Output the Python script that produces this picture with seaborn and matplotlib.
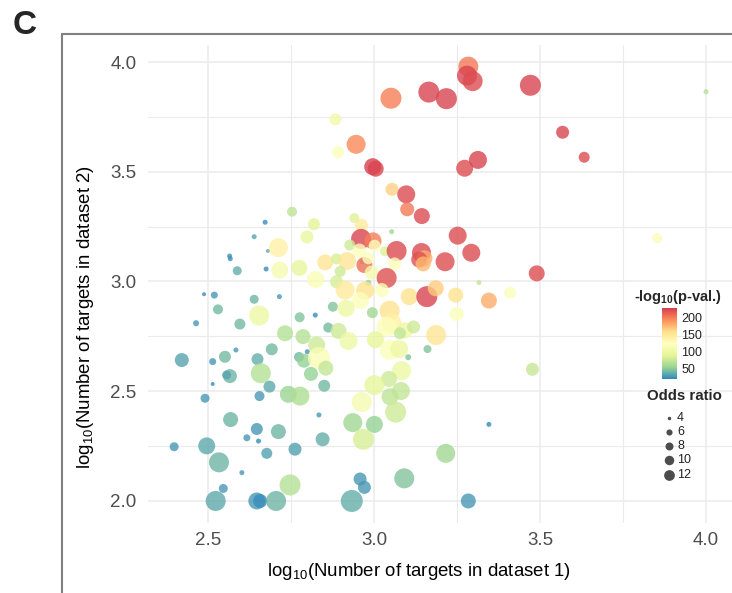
import numpy as np
import pandas as pd
import matplotlib
matplotlib.use("Agg")
import matplotlib.pyplot as plt
import seaborn as sns
from matplotlib.colors import LinearSegmentedColormap, Normalize
from matplotlib.ticker import MultipleLocator
from matplotlib.lines import Line2D
import matplotlib.cm as cm

# ---------------- data ----------------
log_targets_1 = [
    3.284, 3.280, 3.297, 3.471, 3.165, 3.218, 3.051, 3.568, 3.633, 4.000,
    2.946, 2.996, 3.005, 3.273, 3.313, 3.054, 3.097, 3.100, 3.144, 3.053,
    3.252, 3.293, 3.853, 3.490, 2.884, 2.892, 2.753, 2.672, 2.639, 2.819,
    2.798, 2.712, 2.680, 2.565, 2.567, 2.588, 2.675, 2.716, 2.775, 2.941,
    2.962, 2.961, 2.997, 2.927, 2.956, 3.002, 3.033, 3.068, 3.062, 3.143,
    3.152, 3.136, 3.148, 3.214, 2.853, 2.887, 2.919, 2.964, 2.971, 2.983,
    2.824, 2.887, 2.898, 2.913, 2.983, 2.993, 2.973, 3.038, 3.023, 2.959,
    3.106, 3.159, 3.186, 3.246, 3.316, 3.346, 3.249, 3.410, 2.776, 2.823,
    2.876, 2.916, 2.995, 3.047, 3.053, 3.038, 3.093, 3.119, 3.187, 2.862,
    2.893, 2.923, 2.786, 3.004, 3.048, 3.076, 3.161, 3.103, 3.078, 3.083,
    3.045, 3.001, 3.081, 3.048, 2.963, 3.477, 3.346, 3.216, 3.091, 2.958,
    2.971, 2.933, 3.284, 2.936, 3.001, 2.968, 3.065, 2.654, 2.596, 2.530,
    2.639, 2.732, 2.827, 2.551, 2.584, 2.649, 2.692, 2.774, 2.799, 2.789,
    2.834, 2.855, 2.810, 2.566, 2.556, 2.659, 2.685, 2.655, 2.742, 2.777,
    2.850, 2.834, 2.568, 2.647, 2.617, 2.652, 2.712, 2.845, 2.677, 2.762,
    2.602, 2.546, 2.747, 2.488, 2.519, 2.715, 2.464, 2.421, 2.514, 2.514,
    2.491, 2.398, 2.496, 2.533, 2.523, 2.647, 2.657, 2.705,
]
log_targets_2 = [
    3.979, 3.938, 3.913, 3.894, 3.863, 3.833, 3.835, 3.680, 3.566, 3.865,
    3.625, 3.523, 3.514, 3.516, 3.554, 3.420, 3.397, 3.329, 3.298, 3.227,
    3.209, 3.131, 3.198, 3.037, 3.739, 3.589, 3.318, 3.270, 3.204, 3.261,
    3.203, 3.154, 3.139, 3.116, 3.104, 3.049, 3.057, 3.052, 3.062, 3.289,
    3.256, 3.194, 3.185, 3.166, 3.141, 3.163, 3.138, 3.139, 3.080, 3.132,
    3.106, 3.100, 3.080, 3.090, 3.087, 3.103, 3.093, 3.090, 3.075, 3.106,
    3.009, 2.999, 3.046, 2.961, 2.994, 3.041, 2.959, 3.016, 2.961, 2.913,
    2.931, 2.931, 2.969, 2.938, 2.995, 2.913, 2.852, 2.949, 2.837, 2.847,
    2.885, 2.878, 2.858, 2.867, 2.810, 2.794, 2.777, 2.793, 2.756, 2.790,
    2.775, 2.729, 2.749, 2.735, 2.688, 2.692, 2.692, 2.655, 2.764, 2.594,
    2.556, 2.528, 2.501, 2.475, 2.451, 2.600, 2.349, 2.217, 2.103, 2.100,
    2.062, 2.000, 2.000, 2.357, 2.349, 2.281, 2.405, 2.845, 2.806, 2.873,
    2.919, 2.764, 2.711, 2.657, 2.688, 2.646, 2.691, 2.656, 2.680, 2.639,
    2.651, 2.605, 2.579, 2.569, 2.574, 2.582, 2.521, 2.478, 2.486, 2.478,
    2.525, 2.392, 2.371, 2.328, 2.288, 2.273, 2.316, 2.281, 2.217, 2.236,
    2.129, 2.057, 2.073, 2.942, 2.938, 2.931, 2.810, 2.642, 2.635, 2.533,
    2.468, 2.247, 2.251, 2.176, 2.000, 2.000, 2.000, 2.000,
]
odds_ratio = [
    10.8, 10.8, 10.8, 11.6, 11.6, 11.6, 11.6, 6.33, 5.40, 3.54,
    10.05, 8.65, 8.01, 8.65, 9.33, 6.33, 9.33, 6.85, 8.01, 3.54,
    9.33, 9.33, 4.99, 8.01, 5.84, 5.84, 4.99, 3.54, 3.54, 5.84,
    6.33, 10.05, 3.36, 3.54, 3.54, 4.62, 3.54, 8.65, 8.01, 4.99,
    6.33, 10.8, 8.65, 5.40, 6.85, 5.84, 4.99, 10.8, 6.33, 10.05,
    8.01, 8.01, 7.41, 10.05, 8.01, 5.40, 9.33, 3.54, 8.01, 5.84,
    8.65, 6.33, 5.40, 10.05, 3.75, 6.85, 9.33, 10.8, 6.85, 8.65,
    8.65, 11.6, 8.01, 7.41, 3.54, 8.01, 6.85, 5.84, 4.99, 3.54,
    4.99, 8.65, 5.40, 10.8, 10.8, 10.8, 8.01, 6.33, 10.8, 4.99,
    8.01, 9.33, 7.41, 8.65, 10.8, 9.33, 4.29, 3.75, 5.84, 10.05,
    8.01, 10.8, 9.33, 8.65, 10.8, 6.33, 3.54, 10.05, 10.8, 6.33,
    6.33, 12.43, 7.41, 10.05, 8.65, 11.6, 11.6, 10.8, 5.40, 4.99,
    4.62, 8.01, 8.65, 5.84, 3.54, 5.84, 5.84, 4.99, 3.54, 6.85,
    12.43, 7.41, 6.85, 6.85, 4.62, 10.8, 5.84, 4.99, 8.65, 10.05,
    5.84, 3.54, 7.41, 5.84, 4.00, 3.54, 7.41, 6.85, 5.40, 6.33,
    3.54, 4.62, 11.6, 3.36, 4.00, 3.54, 3.75, 6.85, 4.00, 3.36,
    4.62, 4.62, 8.65, 10.8, 10.8, 8.65, 6.85, 10.8,
]
neg_log10_p = [
    202, 225, 222, 225, 225, 225, 200, 225, 222, 66,
    195, 228, 225, 222, 225, 165, 223, 202, 223, 57,
    223, 223, 128, 222, 103, 120, 70, 20, 31, 88,
    95, 140, 36, 22, 22, 36, 20, 110, 92, 85,
    147, 225, 200, 77, 120, 120, 85, 223, 120, 223,
    180, 220, 175, 222, 150, 82, 150, 52, 207, 120,
    116, 82, 77, 147, 52, 110, 155, 220, 120, 120,
    155, 225, 167, 155, 72, 180, 120, 120, 46, 20,
    46, 100, 57, 155, 140, 120, 100, 77, 150, 41,
    77, 100, 66, 92, 120, 100, 46, 46, 72, 100,
    77, 92, 72, 70, 110, 74, 20, 57, 46, 26,
    26, 36, 26, 57, 52, 82, 77, 100, 41, 41,
    39, 66, 77, 41, 26, 36, 41, 41, 26, 52,
    116, 72, 52, 39, 31, 66, 33, 26, 54, 63,
    41, 26, 39, 26, 26, 20, 39, 36, 29, 29,
    26, 26, 66, 20, 26, 26, 26, 31, 26, 20,
    26, 26, 33, 39, 33, 26, 20, 39,
]
x_ticks = [2.5, 3.0, 3.5, 4.0]
y_ticks = [2.0, 2.5, 3.0, 3.5, 4.0]
p_breaks = [50, 100, 150, 200]
or_breaks = [4, 6, 8, 10, 12]
spectral = ["#3288BD", "#99D594", "#E6F598", "#FFFFBF", "#FEE08B", "#FC8D59", "#D53E4F"]

# ---------------- style ----------------
sns.set_style("white")
plt.rcParams["font.family"] = ["Liberation Sans", "DejaVu Sans"]
plt.rcParams["mathtext.fontset"] = "custom"
plt.rcParams["mathtext.rm"] = "Liberation Sans"
plt.rcParams["mathtext.it"] = "Liberation Sans:italic"
plt.rcParams["mathtext.bf"] = "Liberation Sans:bold"

W, H = 732, 593
fig = plt.figure(figsize=(W / 100, H / 100), dpi=100)
ax = fig.add_axes([147.6 / W, 1 - 522.7 / H, 585 / W, 477.8 / H])

df = pd.DataFrame({"x": log_targets_1, "y": log_targets_2,
                   "odds": odds_ratio, "p": neg_log10_p})
cmap = LinearSegmentedColormap.from_list("spectral_gg", spectral)
p_norm = (18, 229)
size_range = (8.3, 250.9)
size_norm = (3.36, 12.43)

sns.scatterplot(data=df, x="x", y="y", hue="p", size="odds",
                palette=cmap, hue_norm=p_norm, sizes=size_range,
                size_norm=size_norm, alpha=0.8, linewidth=0,
                legend=False, ax=ax, zorder=3)

ax.set_xlim(2.318, 4.080)
ax.set_ylim(1.901, 4.078)
ax.set_xticks(x_ticks)
ax.set_yticks(y_ticks)
ax.set_xticklabels([f"{t:.1f}" for t in x_ticks])
ax.set_yticklabels([f"{t:.1f}" for t in y_ticks])
ax.xaxis.set_minor_locator(MultipleLocator(0.25))
ax.yaxis.set_minor_locator(MultipleLocator(0.25))
ax.grid(which="major", color="#EBEBEB", lw=1.1, zorder=0)
ax.grid(which="minor", color="#EBEBEB", lw=0.8, zorder=0)
ax.set_axisbelow(True)
for s in ax.spines.values():
    s.set_visible(False)
ax.tick_params(which="both", length=0, labelsize=13.5, labelcolor="#4D4D4D")
ax.tick_params(axis="y", pad=8)
ax.tick_params(axis="x", pad=7)

ax.set_xlabel("log$_{10}$(Number of targets in dataset 1)", fontsize=13.4, color="black")
ax.set_ylabel("log$_{10}$(Number of targets in dataset 2)", fontsize=13.4, color="black")
ax.xaxis.set_label_coords((419 - 147.6) / 585, (522.7 - 571) / 477.8)
ax.yaxis.set_label_coords((86 - 147.6) / 585, (522.7 - 317) / 477.8)
ax.xaxis.label.set_va("center")
ax.yaxis.label.set_va("center")

# ---------------- colour bar ----------------
cax = fig.add_axes([661.7 / W, 1 - 379 / H, 15.6 / W, 71 / H])
sm = cm.ScalarMappable(norm=Normalize(*p_norm), cmap=cmap)
cb = fig.colorbar(sm, cax=cax, ticks=p_breaks)
cb.outline.set_visible(False)
cax.yaxis.set_ticks_position("both")
cax.tick_params(direction="in", color="white", length=3, width=0.8,
                labelsize=9, labelcolor="#222222", pad=3,
                left=True, right=True, labelleft=False, labelright=True)
fig.text(677.5 / W, 1 - 296.5 / H, r"-log$_\mathbf{10}$(p-val.)", ha="center", va="center",
         fontsize=10.5, fontweight="bold")

# ---------------- size legend ----------------
lax = fig.add_axes([0, 0, 1, 1])
lax.set_xlim(0, W)
lax.set_ylim(H, 0)
lax.axis("off")
fig.text(684 / W, 1 - 396 / H, "Odds ratio", ha="center", va="center",
         fontsize=10.8, fontweight="bold")
def size_of(v):
    return size_range[0] + (v - size_norm[0]) / (size_norm[1] - size_norm[0]) * (size_range[1] - size_range[0])
for i, b in enumerate(or_breaks):
    yy = 417.7 + i * 14.25
    lax.scatter([669], [yy], s=size_of(b) / 4, color="#4D4D4D", linewidth=0)
    lax.text(677, yy, str(b), va="center", ha="left", fontsize=9, color="#222222")

# ---------------- panel frame and label ----------------
fig.add_artist(Line2D([62 / W, 62 / W], [-0.05, 1 - 34 / H], transform=fig.transFigure,
                      color="#808080", lw=1.5))
fig.add_artist(Line2D([62 / W, 1.05], [1 - 34 / H, 1 - 34 / H], transform=fig.transFigure,
                      color="#808080", lw=1.5))
fig.text(25 / W, 1 - 26 / H, "C", ha="center", va="center", fontsize=24, fontweight="bold")

fig.savefig("out.png", dpi=100)
